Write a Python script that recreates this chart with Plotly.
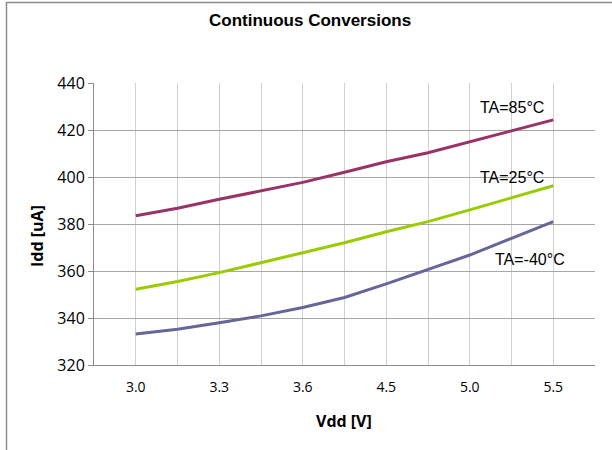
import plotly.graph_objects as go

# ----------------------------
# data
# ----------------------------
# category positions (Excel-style category axis, points every 10 units)
x_pos = [0, 10, 20, 30, 40, 50, 60, 70, 80, 90, 100]
tick_pos = [0, 20, 40, 60, 80, 100]
tick_labels = ["3.0", "3.3", "3.6", "4.5", "5.0", "5.5"]

idd_85 = [383.5, 386.7, 390.5, 394.2, 397.7, 402.0, 406.5, 410.3, 415.0, 419.6, 424.3]
idd_25 = [352.2, 355.5, 359.3, 363.5, 367.5, 372.0, 376.7, 381.0, 386.0, 391.2, 396.3]
idd_m40 = [333.2, 335.2, 338.0, 340.9, 344.5, 348.7, 354.5, 360.7, 366.8, 373.9, 381.0]

series = [
    ("TA=85°C", idd_85, "#993366"),
    ("TA=25°C", idd_25, "#99CC00"),
    ("TA=-40°C", idd_m40, "#666699"),
]

ARIAL = "Liberation Sans, Arial, sans-serif"
SEGOE = "Open Sans, Segoe UI, sans-serif"

fig = go.Figure()
for name, ys, color in series:
    fig.add_trace(go.Scatter(x=x_pos, y=ys, mode="lines", name=name,
                             line=dict(color=color, width=3)))

# curve labels
fig.add_annotation(x=90, y=429.5, text="TA=85°C", showarrow=False,
                   font=dict(size=16, color="black", family=ARIAL))
fig.add_annotation(x=90, y=399.6, text="TA=25°C", showarrow=False,
                   font=dict(size=16, color="black", family=ARIAL))
fig.add_annotation(x=94.4, y=364.7, text="TA=-40°C", showarrow=False,
                   font=dict(size=16, color="black", family=ARIAL))

# titles (positions given in pixels, converted below)
fig.add_annotation(x=310, y=20, text="<b>Continuous Conversions</b>",
                   showarrow=False, font=dict(size=17, color="black", family=ARIAL))
fig.add_annotation(x=344, y=421, text="<b>Vdd [V]</b>", showarrow=False,
                   font=dict(size=16, color="black", family=SEGOE))
fig.add_annotation(x=37, y=236, text="<b>Idd [uA]</b>", showarrow=False, textangle=-90,
                   font=dict(size=16, color="black", family=SEGOE))

L, R, T, B, W, H = 94, 17, 83, 85, 612, 450
pw, ph = W - L - R, H - T - B
for ann in fig.layout.annotations[3:]:
    ann.xref = "paper"
    ann.yref = "paper"
    ann.xanchor = "center"
    ann.yanchor = "middle"
    ann.x = (ann.x - L) / pw
    ann.y = (H - B - ann.y) / ph

# outer chart frame (left and top edges visible)
fig.add_shape(type="rect", xref="paper", yref="paper",
              x0=(6.5 - L) / pw, x1=(640 - L) / pw,
              y0=(H - B - 480) / ph, y1=(H - B - 2.5) / ph,
              line=dict(color="#8C8C8C", width=1.5), layer="below")

fig.update_layout(
    width=W, height=H,
    margin=dict(l=L, r=R, t=T, b=B),
    paper_bgcolor="white", plot_bgcolor="white",
    showlegend=False,
    font=dict(family=ARIAL, size=13, color="black"),
)

fig.update_xaxes(
    range=[-10, 110], tickvals=tick_pos, ticktext=tick_labels,
    showgrid=True, gridcolor="#D0D0D0", gridwidth=1,
    minor=dict(tick0=0, dtick=10, showgrid=True, gridcolor="#D0D0D0", gridwidth=1),
    showline=True, linecolor="#8C8C8C", linewidth=1,
    ticks="", ticklabelstandoff=9, zeroline=False,
    tickfont=dict(size=14, family=SEGOE),
)
fig.update_yaxes(
    range=[320, 440], dtick=20,
    showgrid=True, gridcolor="#A6A6A6", gridwidth=1,
    showline=True, linecolor="#8C8C8C", linewidth=1,
    ticks="outside", ticklen=5, tickcolor="#8C8C8C",
    zeroline=False, tickfont=dict(size=16, family=SEGOE),
)

fig.write_html("out.html", config={"displayModeBar": False},
               post_script="document.body.style.margin='0';")
